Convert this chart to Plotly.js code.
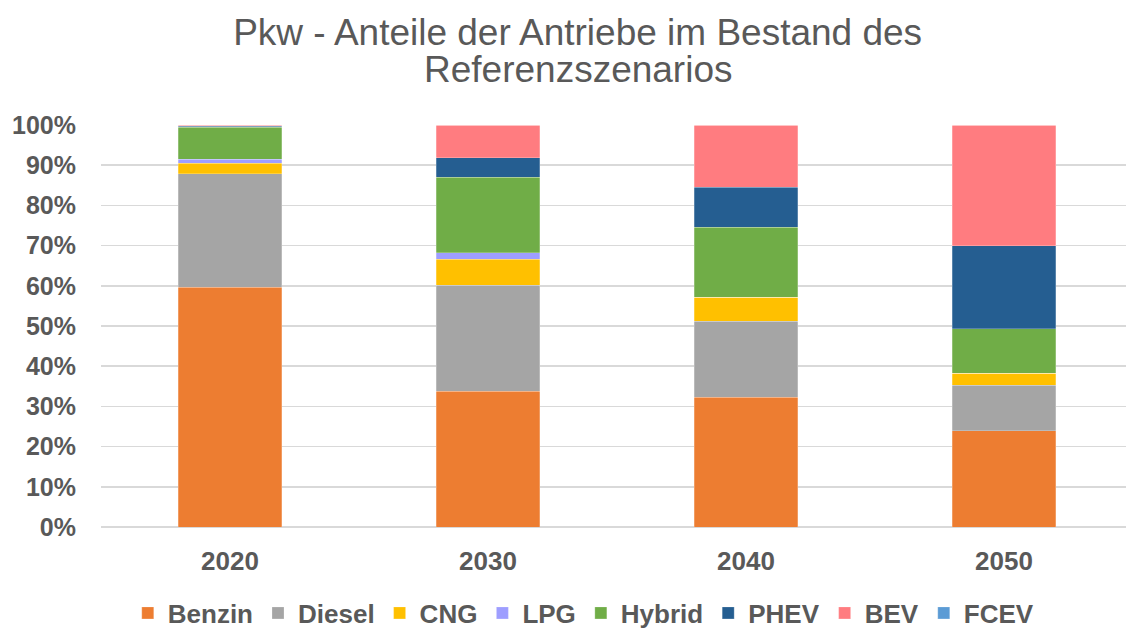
<!DOCTYPE html>
<html>
<head>
<meta charset="utf-8">
<script src="https://cdn.plot.ly/plotly-3.0.1.min.js"></script>
<style>html,body{margin:0;padding:0;background:#fff;}#chart{width:1126px;height:628px;}</style>
</head>
<body>
<div id="chart"></div>
<script>
const years = ['2020', '2030', '2040', '2050'];
const seriesNames = ['Benzin', 'Diesel', 'CNG', 'LPG', 'Hybrid', 'PHEV', 'BEV', 'FCEV'];
const benzin = [59.7, 33.8, 32.3, 24.0];
const diesel = [28.2, 26.4, 18.9, 11.3];
const cng    = [2.6, 6.4, 6.0, 3.0];
const lpg    = [1.0, 1.6, 0.0, 0.0];
const hybrid = [7.9, 18.8, 17.4, 11.0];
const phev   = [0.3, 4.9, 9.9, 20.7];
const bev    = [0.3, 8.1, 15.5, 30.0];
const fcev   = [0.0, 0.0, 0.0, 0.0];
const yTicks = [0, 10, 20, 30, 40, 50, 60, 70, 80, 90, 100];
const titleLines = ['Pkw - Anteile der Antriebe im Bestand des', 'Referenzszenarios'];

const seriesValues = [benzin, diesel, cng, lpg, hybrid, phev, bev, fcev];
const colors = ['#ED7D31', '#A5A5A5', '#FFC000', '#9E9EFF', '#70AD47', '#255E91', '#FF7C80', '#5B9BD5'];
const titleFont = {family: 'Liberation Sans, Arial, sans-serif', size: 37, color: '#595959'};

const traces = seriesNames.map((name, i) => ({
  type: 'bar',
  name: name,
  x: years,
  y: seriesValues[i],
  marker: {color: colors[i], line: {color: 'rgba(255,255,255,0.4)', width: 0.6}},
  hoverinfo: 'name+y'
}));

const layout = {
  width: 1126,
  height: 628,
  barmode: 'stack',
  bargap: 0.6,
  paper_bgcolor: '#ffffff',
  plot_bgcolor: '#ffffff',
  margin: {l: 101, r: 0, t: 125, b: 101, pad: 0},
  title: {
    text: titleLines[0],
    font: titleFont,
    x: 0.513, xref: 'container', xanchor: 'center',
    y: 1 - 32 / 628, yref: 'container', yanchor: 'middle'
  },
  annotations: [{
    text: titleLines[1],
    font: titleFont,
    xref: 'paper', yref: 'paper',
    x: (578 - 101) / 1025, y: 1 + (125 - 70) / 401.5,
    xanchor: 'center', yanchor: 'middle',
    showarrow: false
  }],
  xaxis: {
    type: 'category',
    range: [-0.5, 3.473],
    showgrid: false,
    showline: false,
    zeroline: false,
    ticks: '',
    ticklabelstandoff: 16,
    tickfont: {family: 'Liberation Sans, Arial, sans-serif', size: 26, color: '#595959', weight: 'bold'}
  },
  yaxis: {
    range: [0, 100],
    tickvals: yTicks,
    ticktext: yTicks.map(v => v + '%'),
    showgrid: true,
    gridcolor: '#D9D9D9',
    gridwidth: 1.5,
    zeroline: true,
    zerolinecolor: '#D9D9D9',
    zerolinewidth: 1.5,
    showline: false,
    ticks: '',
    ticklabelstandoff: 24,
    tickfont: {family: 'Liberation Sans, Arial, sans-serif', size: 25, color: '#595959', weight: 'bold'}
  },
  legend: {
    orientation: 'h',
    xref: 'container', yref: 'container',
    x: 0.518, xanchor: 'center',
    y: 1 - 613 / 628, yanchor: 'middle',
    traceorder: 'normal',
    font: {family: 'Liberation Sans, Arial, sans-serif', size: 26, color: '#595959', weight: 'bold'},
    itemwidth: 30,
    tracegroupgap: 0
  },
  showlegend: true
};

Plotly.newPlot('chart', traces, layout, {displayModeBar: false, staticPlot: true});
</script>
</body>
</html>
